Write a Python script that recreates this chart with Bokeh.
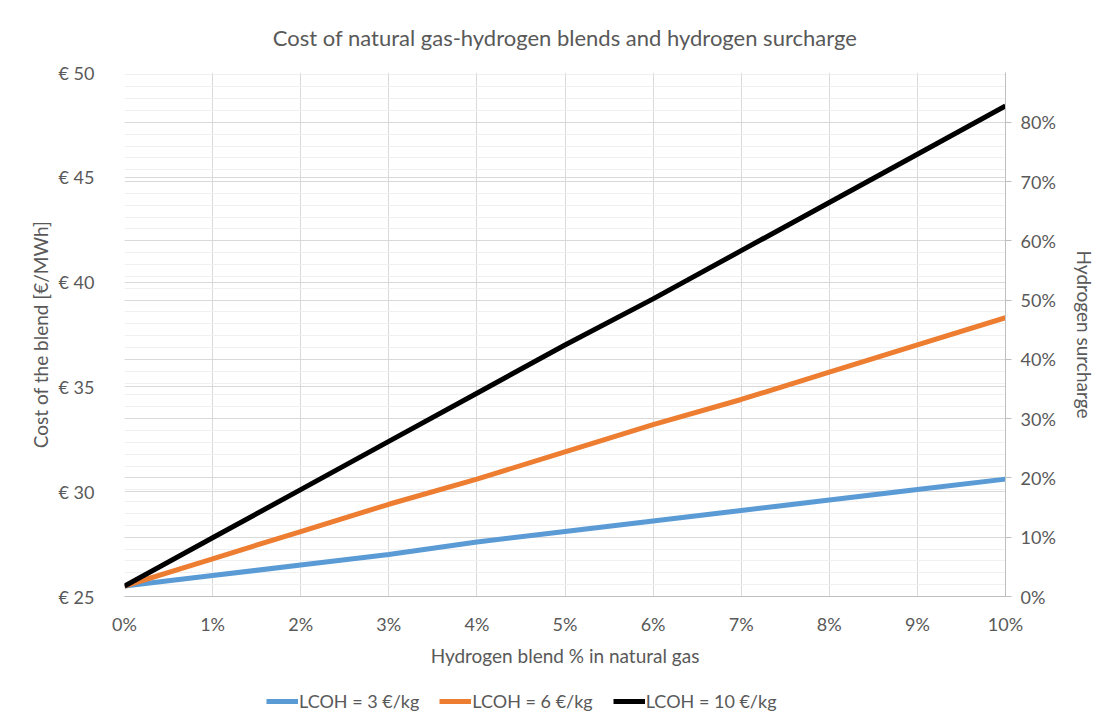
from bokeh.plotting import figure
from bokeh.layouts import column
from bokeh.models import (Range1d, LinearAxis, SingleIntervalTicker, Grid, Legend, LegendItem,
                          CustomJSTickFormatter, NumeralTickFormatter, Title)
from bokeh.embed import file_html
from bokeh.resources import INLINE

# Data
blend_pct = [0, 0.01, 0.02, 0.03, 0.04, 0.05, 0.06, 0.07, 0.08, 0.09, 0.10]
cost_lcoh3 = [25.5, 26.0, 26.5, 27.0, 27.6, 28.1, 28.6, 29.1, 29.6, 30.1, 30.6]
cost_lcoh6 = [25.5, 26.8, 28.1, 29.4, 30.6, 31.9, 33.2, 34.4, 35.7, 37.0, 38.3]
cost_lcoh10 = [25.5, 27.8, 30.1, 32.4, 34.7, 37.0, 39.2, 41.5, 43.8, 46.1, 48.4]
series_labels = ["LCOH = 3 €/kg", "LCOH = 6 €/kg", "LCOH = 10 €/kg"]
series_colors = ["#5B9BD5", "#ED7D31", "#000000"]

FONT = "Lato"
TXT = "#595959"

p = figure(frame_width=881, frame_height=524, output_backend="svg", toolbar_location=None,
           x_range=Range1d(0, 0.10), y_range=Range1d(25, 50),
           min_border_left=124, min_border_right=79, min_border_top=72, min_border_bottom=84)
p.outline_line_color = None
p.title.visible = False

t = Title(text="Cost of natural gas-hydrogen blends and hydrogen surcharge", align="center",
          text_font=FONT, text_font_size="22px", text_color=TXT, text_font_style="normal",
          standoff=43)
p.add_layout(t, "above")

p.extra_y_ranges = {"right": Range1d(0, 0.884)}

# Left axis
ya = p.yaxis[0]
ya.ticker = SingleIntervalTicker(interval=5, num_minor_ticks=0)
ya.formatter = CustomJSTickFormatter(code="return '€ ' + tick.toFixed(0);")
ya.axis_line_color = None
ya.major_tick_line_color = None
ya.minor_tick_line_color = None
ya.major_label_text_font = FONT
ya.major_label_text_font_size = "18px"
ya.major_label_text_color = TXT
ya.major_label_standoff = 24
ya.axis_label = "Cost of the blend [€/MWh]"
ya.axis_label_text_font = FONT
ya.axis_label_text_font_size = "19px"
ya.axis_label_text_font_style = "normal"
ya.axis_label_text_color = TXT
ya.axis_label_standoff = 4

# Bottom axis
xa = p.xaxis[0]
xa.ticker = SingleIntervalTicker(interval=0.01, num_minor_ticks=0)
xa.formatter = NumeralTickFormatter(format="0%")
xa.axis_line_color = "#bfbfbf"
xa.major_tick_line_color = None
xa.minor_tick_line_color = None
xa.major_label_text_font = FONT
xa.major_label_text_font_size = "18px"
xa.major_label_text_color = TXT
xa.major_label_standoff = 10
xa.axis_label = "Hydrogen blend % in natural gas"
xa.axis_label_text_font = FONT
xa.axis_label_text_font_size = "19px"
xa.axis_label_text_font_style = "normal"
xa.axis_label_text_color = TXT
xa.axis_label_standoff = 6

# Right axis
rticker = SingleIntervalTicker(interval=0.1, num_minor_ticks=5)
ra = LinearAxis(y_range_name="right", ticker=rticker, formatter=NumeralTickFormatter(format="0%"))
ra.axis_line_color = "#bfbfbf"
ra.major_tick_line_color = "#bfbfbf"
ra.major_tick_out = 6
ra.major_tick_in = 0
ra.minor_tick_line_color = None
ra.major_label_text_font = FONT
ra.major_label_text_font_size = "18px"
ra.major_label_text_color = TXT
ra.major_label_standoff = 9
ra.axis_label = "Hydrogen surcharge"
ra.axis_label_text_font = FONT
ra.axis_label_text_font_size = "19px"
ra.axis_label_text_font_style = "normal"
ra.axis_label_text_color = TXT
ra.axis_label_standoff = 14
p.add_layout(ra, "right")

# Grids
p.xgrid.grid_line_color = "#d9d9d9"
p.ygrid.grid_line_color = "#d9d9d9"
rgrid = Grid(dimension=1, ticker=rticker, y_range_name="right",
             grid_line_color="#d9d9d9", minor_grid_line_color="#f0f0f0")
p.add_layout(rgrid)

for ys, col in zip([cost_lcoh3, cost_lcoh6, cost_lcoh10], series_colors):
    p.line(blend_pct, ys, line_color=col, line_width=5)

# Legend strip below the chart
pl = figure(width=1084, height=42, output_backend="svg", toolbar_location=None,
            x_range=Range1d(0, 1), y_range=Range1d(0, 1), min_border=0)
pl.axis.visible = False
pl.grid.visible = False
pl.outline_line_color = None
nan = float("nan")
items = []
for lab, col in zip(series_labels, series_colors):
    r = pl.line(x=[nan, nan], y=[nan, nan], line_color=col, line_width=5)
    items.append(LegendItem(label=lab, renderers=[r]))
leg = Legend(items=items, orientation="horizontal", location=(142, 10),
             label_text_font=FONT, label_text_font_size="18px", label_text_color=TXT,
             glyph_width=32, glyph_height=16, label_standoff=1, spacing=20,
             border_line_color=None, background_fill_alpha=0, padding=0, margin=0)
pl.add_layout(leg)

layout = column(p, pl, spacing=0)
open("out.html", "w").write(file_html(layout, INLINE))
